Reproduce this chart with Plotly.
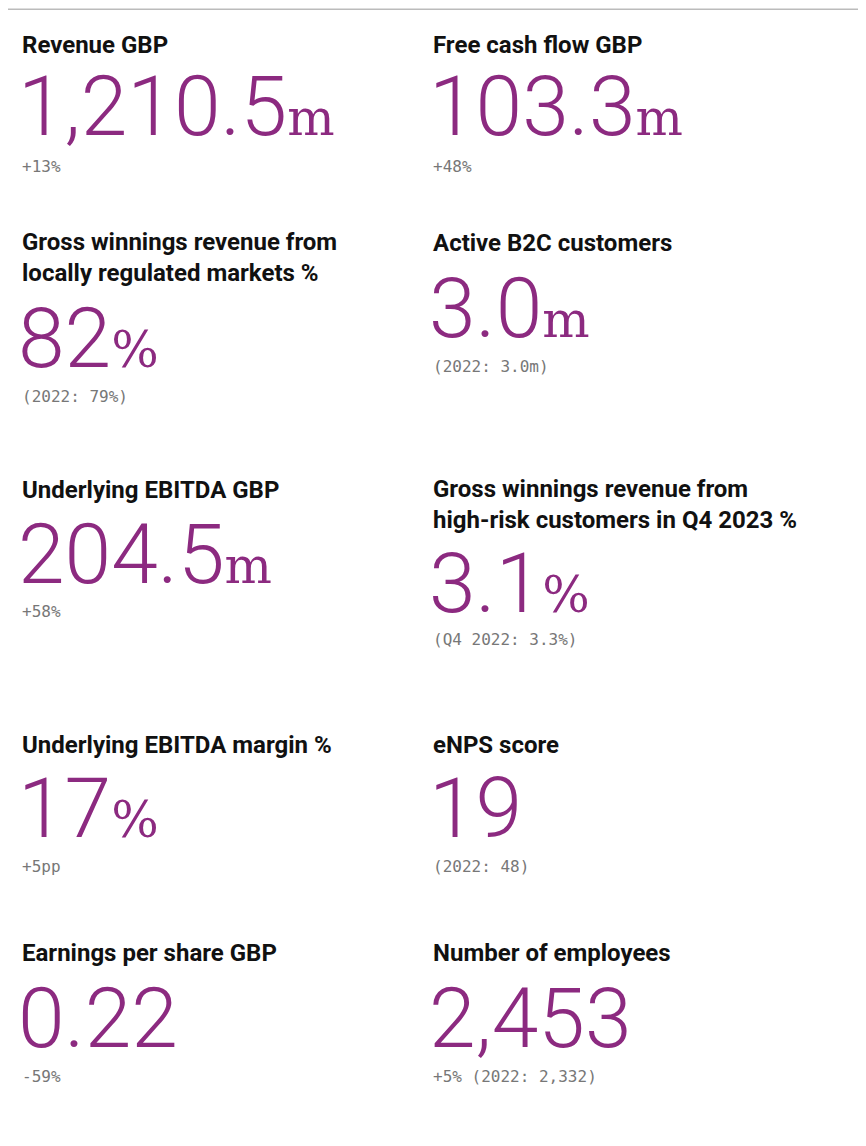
import plotly.graph_objects as go

titles = ["Revenue GBP", "Free cash flow GBP",
          "Gross winnings revenue from<br>locally regulated markets %", "Active B2C customers",
          "Underlying EBITDA GBP", "Gross winnings revenue from<br>high-risk customers in Q4 2023 %",
          "Underlying EBITDA margin %", "eNPS score",
          "Earnings per share GBP", "Number of employees"]
values = ["1,210.5", "103.3", "82", "3.0", "204.5", "3.1", "17", "19", "0.22", "2,453"]
units = ["m", "m", "%", "m", "m", "%", "%", "", "", ""]
subs = ["+13%", "+48%", "(2022: 79%)", "(2022: 3.0m)", "+58%", "(Q4 2022: 3.3%)",
        "+5pp", "(2022: 48)", "-59%", "+5% (2022: 2,332)"]

W, H = 866, 1146
OFF = 8  # page body margin
xs = [20 - OFF, 431 - OFF]
ypos = [(45, 106, 166), (45, 106, 166),
        (257, 338, 396), (243, 308, 366),
        (490, 554, 611), (504, 583, 639),
        (745, 808, 866), (745, 808, 866),
        (953, 1018, 1076), (953, 1018, 1076)]

PURPLE = "#8c2a80"
fig = go.Figure()
ann = []
for i in range(len(titles)):
    x = xs[i % 2] / W
    ty, ny, sy = [v - OFF for v in ypos[i]]
    ann.append(dict(x=x, y=1 - ty / H, text=titles[i], showarrow=False, xanchor="left",
                    yanchor="middle", align="left",
                    font=dict(family="Roboto", size=24, color="#111", weight="bold")))
    unit = units[i]
    txt = values[i] + (f"<span style='font-size:50px;font-family:DejaVu Serif'>{unit}</span>" if unit else "")
    ann.append(dict(x=x - 4 / W, y=1 - ny / H, text=txt, showarrow=False, xanchor="left",
                    yanchor="middle", font=dict(family="Roboto", size=84, color=PURPLE, weight=300)))
    ann.append(dict(x=x, y=1 - sy / H, text=subs[i], showarrow=False, xanchor="left",
                    yanchor="middle", font=dict(family="DejaVu Sans Mono", size=16, color="#777")))

fig.update_layout(width=W, height=H, margin=dict(l=0, r=0, t=0, b=0),
                  paper_bgcolor="white", plot_bgcolor="white",
                  xaxis=dict(visible=False, range=[0, 1]), yaxis=dict(visible=False, range=[0, 1]),
                  annotations=ann,
                  shapes=[dict(type="rect", xref="paper", yref="paper", x0=-0.01, x1=(862 - OFF) / W,
                               y0=-0.01, y1=0.999, line=dict(color="#bbb", width=1.5))])
fig.write_html("out.html")
